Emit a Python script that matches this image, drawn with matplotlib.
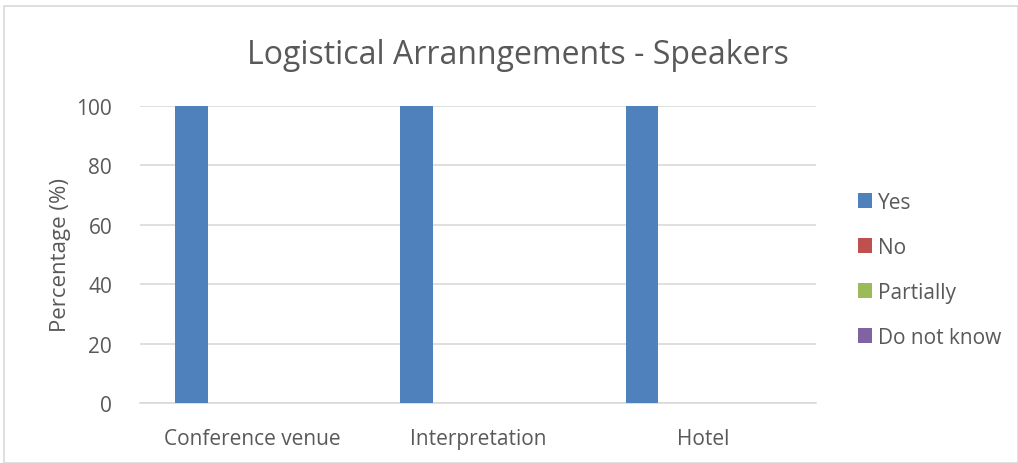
import matplotlib
matplotlib.use("Agg")
import matplotlib.pyplot as plt
import numpy as np
from matplotlib.patches import Rectangle

plt.rcParams['font.family'] = ['Open Sans', 'DejaVu Sans']

categories = ["Conference venue", "Interpretation", "Hotel"]
series = ["Yes", "No", "Partially", "Do not know"]
yes_vals = [100, 100, 100]
no_vals = [0, 0, 0]
partially_vals = [0, 0, 0]
dontknow_vals = [0, 0, 0]
colors = ["#4f81bd", "#c0504d", "#9bbb59", "#8064a2"]

txt = "#595959"
W, H = 1018, 464
fig = plt.figure(figsize=(W / 100, H / 100), dpi=100)
# axes in pixel coords: x 140..816, y 107..404
ax = fig.add_axes([140 / W, 1 - 404 / H, 676 / W, 297 / H])

x = np.arange(len(categories))
bw = 0.145
step = 0.181
vals = [yes_vals, no_vals, partially_vals, dontknow_vals]
for i, (name, v) in enumerate(zip(series, vals)):
    ax.bar(x + (i - 1.5) * step, v, width=bw, color=colors[i], label=name, zorder=3)

ax.set_xlim(-0.5, 2.5)
ax.set_ylim(0, 100)
ax.set_yticks(range(0, 101, 20))
ax.yaxis.grid(True, color="#d9d9d9", linewidth=1.2, zorder=0)
ax.set_xticks(x)
ax.set_xticklabels(categories)
for s in ["top", "right", "left"]:
    ax.spines[s].set_visible(False)
ax.spines["bottom"].set_color("#d9d9d9")
ax.spines["bottom"].set_linewidth(1.2)
ax.tick_params(axis="both", length=0, colors=txt, labelsize=15)
ax.tick_params(axis="x", pad=18)
ax.tick_params(axis="y", pad=20)
ax.set_ylabel("Percentage (%)", color=txt, fontsize=16, labelpad=4)

fig.text(518 / W, 1 - 55 / H, "Logistical Arranngements - Speakers",
         ha="center", va="center", fontsize=23, color=txt)

handles, labels = ax.get_legend_handles_labels()
leg = fig.legend(handles, labels, loc="center left", bbox_to_anchor=(839 / W, 1 - 271 / H),
                 frameon=False, fontsize=15, labelcolor=txt, handlelength=0.7,
                 handleheight=0.7, handletextpad=0.25, labelspacing=1.15)

fig.patches.append(Rectangle((4 / W, 0), 1 - 4 / W, 1 - 7 / H, transform=fig.transFigure,
                             fill=False, edgecolor="#d9d9d9", linewidth=1.2))

fig.savefig("out.png", dpi=100)
